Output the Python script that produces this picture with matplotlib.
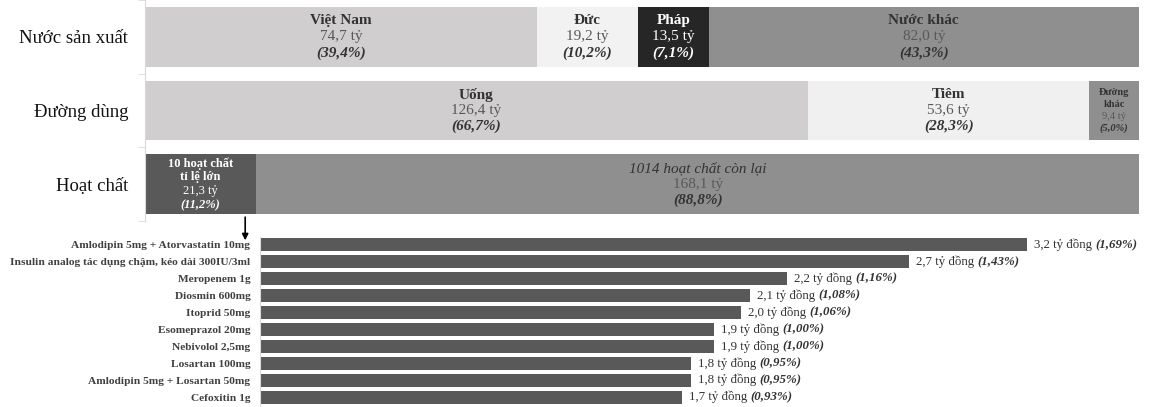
import matplotlib.pyplot as plt
import numpy as np

plt.rcParams['font.family'] = ['Liberation Serif', 'DejaVu Serif']

# --- top stacked rows ---
rows = ['Nước sản xuất', 'Đường dùng', 'Hoạt chất']
row1_names = ['Việt Nam', 'Đức', 'Pháp', 'Nước khác']
row1_vals = [74.7, 19.2, 13.5, 82.0]
row1_pct = [39.4, 10.2, 7.1, 43.3]
row2_names = ['Uống', 'Tiêm', 'Đường\nkhác']
row2_vals = [126.4, 53.6, 9.4]
row2_pct = [66.7, 28.3, 5.0]
row3_names = ['10 hoạt chất\ntỉ lệ lớn', '1014 hoạt chất còn lại']
row3_vals = [21.3, 168.1]
row3_pct = [11.2, 88.8]

# --- top 10 active ingredients ---
drugs = ['Amlodipin 5mg + Atorvastatin 10mg',
         'Insulin analog tác dụng chậm, kéo dài 300IU/3ml',
         'Meropenem 1g', 'Diosmin 600mg', 'Itoprid 50mg',
         'Esomeprazol 20mg', 'Nebivolol 2,5mg', 'Losartan 100mg',
         'Amlodipin 5mg + Losartan 50mg', 'Cefoxitin 1g']
drug_vals = [3.2, 2.7, 2.2, 2.1, 2.0, 1.9, 1.9, 1.8, 1.8, 1.7]
drug_pct = [1.69, 1.43, 1.16, 1.08, 1.06, 1.00, 1.00, 0.95, 0.95, 0.93]


def fmt(v, d=1):
    return f'{v:.{d}f}'.replace('.', ',')


fig = plt.figure(figsize=(11.49, 4.07), dpi=100)

ax = fig.add_axes([145 / 1149, 1 - 221 / 407, 994 / 1149, 221 / 407])
ax2 = fig.add_axes([260 / 1149, 1.5 / 407, 879 / 1149, 169 / 407])

colors = [
    ['#d0cece', '#f2f2f2', '#262626', '#8f8f8f'],
    ['#d0cece', '#f0f0f0', '#8f8f8f'],
    ['#595959', '#8f8f8f'],
]
names = [row1_names, row2_names, row3_names]
vals = [row1_vals, row2_vals, row3_vals]
pcts = [row1_pct, row2_pct, row3_pct]

for i in range(3):
    left = 0
    for j, p in enumerate(pcts[i]):
        c = colors[i][j]
        ax.barh(i, p, left=left, height=0.81, color=c, edgecolor='none')
        cx = left + p / 2
        white = c in ('#262626', '#595959')
        tc = 'white' if white else '#333333'
        vc = 'white' if white else '#595959'
        other = (i == 2 and j == 1)
        name_lines = names[i][j].split('\n')
        if i == 1 and j == 2:
            fs, step = 7.5, 8.5
        elif i == 2 and j == 0:
            fs, step = 9, 10
        else:
            fs, step = 11, 11.5
        lines = []
        for nl in name_lines:
            lines.append((nl, 'normal' if other else 'bold',
                          'italic' if other else 'normal', tc))
        lines.append((fmt(vals[i][j]) + ' tỷ', 'normal', 'normal', vc))
        lines.append(('(' + fmt(p) + '%)', 'bold', 'italic', tc))
        n = len(lines)
        for k, (txt, w, st, col) in enumerate(lines):
            off = ((n - 1) / 2 - k) * step
            ax.annotate(txt, (cx, i), xytext=(0, off), textcoords='offset points',
                        ha='center', va='center', fontsize=fs, fontweight=w,
                        fontstyle=st, color=col)
        left += p

ax.set_xlim(0, 100)
ax.set_ylim(2.5, -0.5)
ax.set_xticks([])
ax.set_yticks(range(3))
ax.set_yticklabels(rows, fontsize=13.5, color='#111111')
ax.tick_params(axis='y', which='major', length=0, pad=12)
ax.set_yticks([-0.5, 0.5, 1.5, 2.5], minor=True)
ax.tick_params(axis='y', which='minor', length=5, color='#d9d9d9')
for s in ['top', 'right', 'bottom']:
    ax.spines[s].set_visible(False)
ax.spines['left'].set_color('#d9d9d9')

# arrow from the top-10 segment down to the detail chart
ax.annotate('', xy=(row3_pct[0] * 0.9, 2.8), xytext=(row3_pct[0] * 0.9, 2.41),
            arrowprops=dict(arrowstyle='-|>', color='black', lw=1.2, mutation_scale=9),
            annotation_clip=False)

# --- bottom bars ---
y = np.arange(len(drugs))
ax2.barh(y, drug_pct, height=0.77, color='#595959', edgecolor='none')
for k in range(len(drugs)):
    t1 = ax2.annotate(fmt(drug_vals[k]) + ' tỷ đồng ', (drug_pct[k], k), xytext=(5, 0),
                      textcoords='offset points', ha='left', va='center',
                      fontsize=9.3, color='#333333')
    ax2.annotate('(' + fmt(drug_pct[k], 2) + '%)', xy=(1, 0.5), xycoords=t1,
                 ha='left', va='center', fontsize=9.3, fontweight='bold',
                 fontstyle='italic', color='#333333')

ax2.set_xlim(0, 1.936)
ax2.set_ylim(len(drugs) - 0.5, -0.5)
ax2.set_xticks([])
ax2.set_yticks(y)
ax2.set_yticklabels(drugs, fontsize=8.2, fontweight='bold', color='#404040')
ax2.tick_params(axis='y', length=0, pad=7)
for s in ['top', 'right', 'bottom']:
    ax2.spines[s].set_visible(False)
ax2.spines['left'].set_color('#d9d9d9')

fig.savefig('out.png', dpi=100)
